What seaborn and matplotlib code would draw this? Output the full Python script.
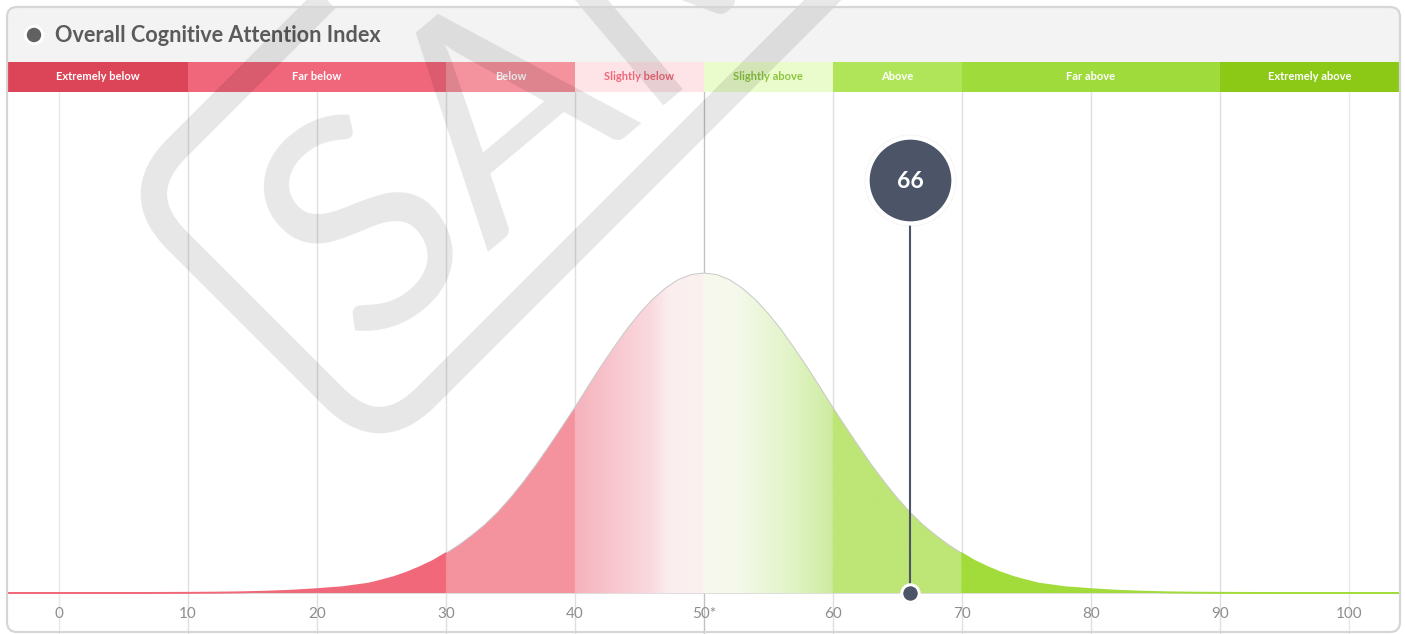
import numpy as np
import matplotlib
matplotlib.use("Agg")
import matplotlib.pyplot as plt
from matplotlib.colors import to_rgb
from matplotlib.patches import FancyBboxPatch, Circle
from matplotlib.transforms import Affine2D
import seaborn as sns

W, H = 1405, 634

title = "Overall Cognitive Attention Index"
score = 66

band_names = ["Extremely below", "Far below", "Below", "Slightly below",
              "Slightly above", "Above", "Far above", "Extremely above"]
band_inner_edges = [10, 30, 40, 50, 60, 70, 90]
band_colors = ["#DC4558", "#F0667A", "#F4929E", "#FEE3E7",
               "#EAFCCB", "#B0E55A", "#A0DB3C", "#8BC916"]
band_text_colors = ["white", "white", "white", "#F06878",
                    "#8CC63F", "white", "white", "white"]

tick_values = [0, 10, 20, 30, 40, 50, 60, 70, 80, 90, 100]
tick_labels = ["0", "10", "20", "30", "40", "50*", "60", "70", "80", "90", "100"]

# bell curve, peak = 1
curve_x = ([-4, -2, 0, 2, 4, 6, 8, 10, 12, 14, 16, 18, 20, 22, 24]
           + [25, 26, 27, 28, 29, 30, 31, 32, 33, 34, 35, 36, 37, 38, 39, 40, 41, 42,
              43, 44, 45, 46, 47, 48, 49, 50, 51, 52, 53, 54, 55, 56, 57, 58, 59, 60,
              61, 62, 63, 64, 65, 66, 67, 68, 69, 70, 71, 72, 73, 74, 75]
           + [76, 78, 80, 82, 84, 86, 88, 90, 92, 94, 96, 98, 100, 102, 104])
curve_y = ([0, 0, 0, 0, 0, 0, 0.0002, 0.0005, 0.001, 0.002, 0.004, 0.007, 0.012,
            0.018, 0.029]
           + [0.039, 0.050, 0.064, 0.081, 0.100, 0.124, 0.150, 0.180, 0.213, 0.252,
              0.297, 0.347, 0.401, 0.459, 0.519, 0.580, 0.644, 0.707, 0.766, 0.823,
              0.873, 0.917, 0.952, 0.979, 0.995, 1.000, 0.995, 0.979, 0.952, 0.917,
              0.873, 0.823, 0.766, 0.707, 0.644, 0.580, 0.519, 0.459, 0.401, 0.347,
              0.297, 0.252, 0.213, 0.180, 0.150, 0.124, 0.100, 0.081, 0.064, 0.050,
              0.039]
           + [0.029, 0.018, 0.012, 0.007, 0.004, 0.002, 0.001, 0.0005, 0.0002,
              0, 0, 0, 0, 0, 0])

# fill colours along x
fill_stops = [(-4, "#F0687A"), (29.99, "#F0687A"), (30, "#F4939E"), (39.99, "#F4939E"),
              (40, "#F5B2BC"), (43, "#F8C6CE"), (45.8, "#FAD9DE"), (47.4, "#FBEEEF"),
              (49.99, "#FAF2F0"), (50, "#F7F8EE"), (52.6, "#F5F9EB"), (54.1, "#EDF7DD"),
              (56.2, "#E4F5CC"), (58.8, "#D5EFAF"), (59.99, "#CFEBA1"), (60, "#BDE676"),
              (69.99, "#BDE676"), (70, "#A2DC3B"), (104, "#A2DC3B")]

XLO, XHI = -3.95, 103.9
YLO, YHI = -41 / 320, 501 / 320
dark = "#4B5567"

sns.set_theme(style="white")
plt.rcParams["font.family"] = ["Lato", "DejaVu Sans"]

fig = plt.figure(figsize=(W / 100, H / 100), dpi=100)
fig.patch.set_facecolor("white")
px = Affine2D().scale(1 / W, 1 / H) + fig.transFigure

# card
card = FancyBboxPatch((7, 2), 1393, 625, boxstyle="round,pad=0,rounding_size=10",
                      transform=px, facecolor="#F3F3F3", edgecolor="none", zorder=-1)
fig.add_artist(card)
border = FancyBboxPatch((7, 2), 1393, 625, boxstyle="round,pad=0,rounding_size=10",
                        transform=px, facecolor="none", edgecolor="#D6D6D6",
                        lw=1.6, zorder=20)
fig.add_artist(border)

fig.add_artist(Circle((34, H - 35), 9.5, transform=px, color="white", zorder=2))
fig.add_artist(Circle((34, H - 35), 6.5, transform=px, color="#616161", zorder=3))
fig.text(55 / W, 1 - 36 / H, title, ha="left", va="center", fontsize=15.6,
         fontweight="bold", color="#5B5B5B")

# band strip
ax_b = fig.add_axes([8 / W, 1 - 92 / H, 1391 / W, 30 / H])
edges = [XLO] + band_inner_edges + [XHI]
for i, name in enumerate(band_names):
    ax_b.axvspan(edges[i], edges[i + 1], color=band_colors[i], lw=0)
    ax_b.text((edges[i] + edges[i + 1]) / 2, 0.5, name, ha="center", va="center",
              fontsize=8, fontweight="bold", color=band_text_colors[i])
ax_b.set_xlim(XLO, XHI)
ax_b.set_ylim(0, 1)
ax_b.axis("off")

# main chart
ax = fig.add_axes([8 / W, 0, 1391 / W, 542 / H])
ax.set_facecolor("white")
for t in tick_values:
    c = "#C2C2C2" if t == 50 else ("#E9E9E9" if t in (0, 100) else "#E0E0E0")
    ax.axvline(t, color=c, lw=1, zorder=0.5)

poly = ax.fill_between(curve_x, curve_y, 0, color="none", lw=0)
xs = np.linspace(XLO, XHI, 2400)
sx = [s[0] for s in fill_stops]
rgb = np.array([to_rgb(s[1]) for s in fill_stops])
img = np.stack([np.interp(xs, sx, rgb[:, k]) for k in range(3)], axis=-1)[None, :, :]
im = ax.imshow(img, extent=[XLO, XHI, 0, 1.0], aspect="auto", origin="lower",
               zorder=2, interpolation="bilinear")
im.set_clip_path(poly.get_paths()[0], transform=ax.transData)

cx = np.array(curve_x)
cy = np.array(curve_y)
left = cx <= 30
mid = (cx >= 30) & (cx <= 70)
right = cx >= 70
sns.lineplot(x=cx[mid], y=cy[mid], color="#C8C8C8", lw=0.7, ax=ax, zorder=3)
sns.lineplot(x=cx[left], y=cy[left], color="#F0687A", lw=1.4, ax=ax, zorder=3)
sns.lineplot(x=cx[right], y=cy[right], color="#A2DC3B", lw=1.4, ax=ax, zorder=3)

# score marker
big_y = 1.29
ax.plot([score, score], [0, big_y - 0.13], color=dark, lw=1.5, zorder=5)
ax.scatter([score], [big_y], s=(92 / 1.389) ** 2, color="black", alpha=0.05,
           lw=0, zorder=5, clip_on=False)
ax.scatter([score], [big_y], s=(86 / 1.389) ** 2, color=dark, edgecolor="white",
           lw=3.1, zorder=6, clip_on=False)
ax.text(score, big_y - 0.005, str(score), ha="center", va="center", color="white",
        fontsize=16.5, fontweight="bold", zorder=7)
ax.scatter([score], [0], s=(21 / 1.389) ** 2, color="black", alpha=0.06, lw=0, zorder=5)
ax.scatter([score], [0], s=(17.5 / 1.389) ** 2, color=dark, edgecolor="white",
           lw=2.2, zorder=6, clip_on=False)

ax.set_xlim(XLO, XHI)
ax.set_ylim(YLO, YHI)
ax.set_yticks([])
ax.set_xticks(tick_values)
ax.set_xticklabels(tick_labels, fontfamily=["Liberation Sans Narrow", "Roboto"],
                   fontsize=9)
ax.tick_params(axis="x", length=0, pad=10, labelcolor="#8E8E8E")
for s in ["top", "left", "right"]:
    ax.spines[s].set_visible(False)
ax.spines["bottom"].set_position(("data", 0))
ax.spines["bottom"].set_color("#D4D4D4")
ax.spines["bottom"].set_linewidth(1.1)
ax.spines["bottom"].set_zorder(1)
ax.set_xlabel("")
ax.set_ylabel("")

# watermark
wm = (0, 0, 0, 0.095)
box = FancyBboxPatch((403.5, -133.5), 1500, 352,
                     boxstyle="round,pad=0,rounding_size=65",
                     transform=Affine2D().rotate_deg(45) + px,
                     facecolor="none", edgecolor=wm, lw=19, zorder=15)
fig.add_artist(box)
fig.text(362, H - 350, "SAMPLE", transform=px, rotation=40, rotation_mode="anchor",
         ha="left", va="baseline", fontsize=215, color=wm, zorder=15)

fig.savefig("out.png", dpi=100)
